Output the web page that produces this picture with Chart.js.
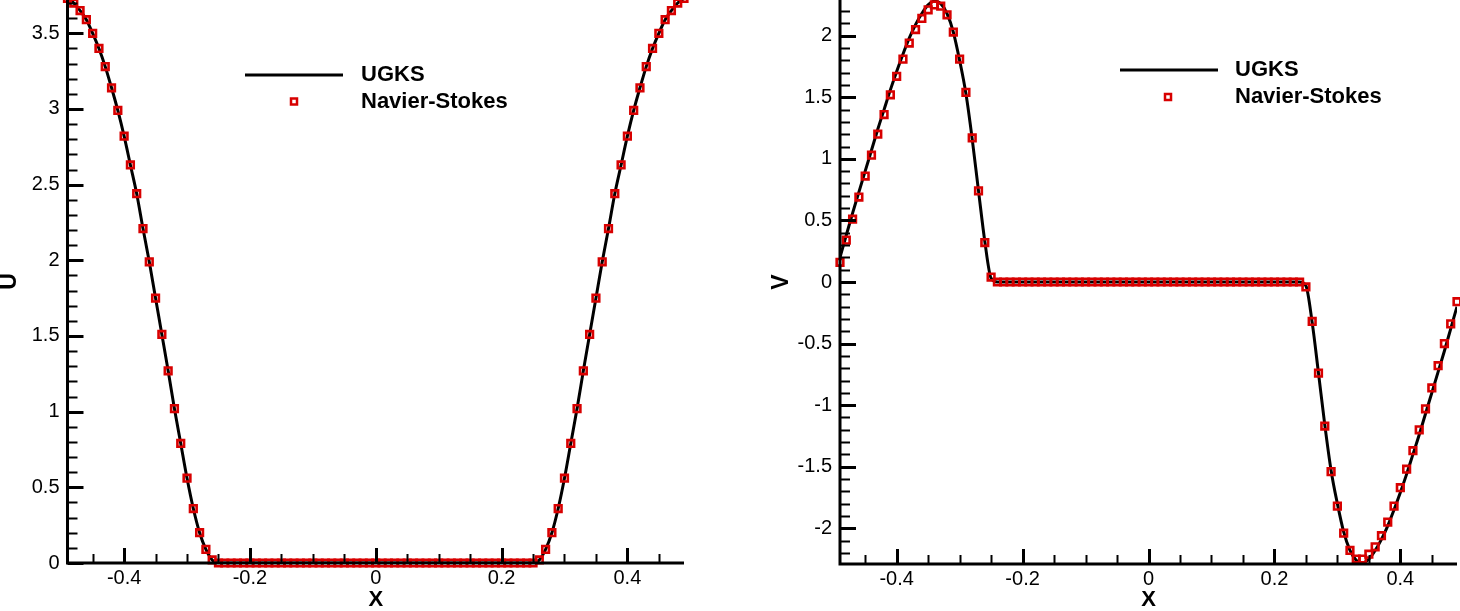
<!DOCTYPE html>
<html>
<head>
<meta charset="utf-8">
<script src="https://cdn.jsdelivr.net/npm/chart.js@4.4.1/dist/chart.umd.min.js"></script>
<style>
  html, body { margin: 0; padding: 0; background: #fff; }
  #wrap { position: relative; width: 1460px; height: 611px; overflow: hidden; }
  .panel { position: absolute; top: 0; width: 730px; height: 611px; }
</style>
</head>
<body>
<div id="wrap">
  <div class="panel" style="left:0"><canvas id="chartU"></canvas></div>
  <div class="panel" style="left:730px"><canvas id="chartV"></canvas></div>
</div>
<script>
// cell positions along X
const xPos = [
  -0.49, -0.48, -0.47, -0.46, -0.45, -0.44, -0.43, -0.42, -0.41, -0.40,
  -0.39, -0.38, -0.37, -0.36, -0.35, -0.34, -0.33, -0.32, -0.31, -0.30,
  -0.29, -0.28, -0.27, -0.26, -0.25, -0.24, -0.23, -0.22, -0.21, -0.20,
  -0.19, -0.18, -0.17, -0.16, -0.15, -0.14, -0.13, -0.12, -0.11, -0.10,
  -0.09, -0.08, -0.07, -0.06, -0.05, -0.04, -0.03, -0.02, -0.01, 0.00,
  0.01, 0.02, 0.03, 0.04, 0.05, 0.06, 0.07, 0.08, 0.09, 0.10,
  0.11, 0.12, 0.13, 0.14, 0.15, 0.16, 0.17, 0.18, 0.19, 0.20,
  0.21, 0.22, 0.23, 0.24, 0.25, 0.26, 0.27, 0.28, 0.29, 0.30,
  0.31, 0.32, 0.33, 0.34, 0.35, 0.36, 0.37, 0.38, 0.39, 0.40,
  0.41, 0.42, 0.43, 0.44, 0.45, 0.46, 0.47, 0.48, 0.49
];

// U velocity
const ugksU = [
  3.73, 3.70, 3.65, 3.59, 3.50, 3.40, 3.28, 3.14, 2.99, 2.82,
  2.63, 2.44, 2.21, 1.99, 1.75, 1.51, 1.27, 1.02, 0.79, 0.56,
  0.36, 0.20, 0.09, 0.02, 0, 0, 0, 0, 0, 0,
  0, 0, 0, 0, 0, 0, 0, 0, 0, 0,
  0, 0, 0, 0, 0, 0, 0, 0, 0, 0,
  0, 0, 0, 0, 0, 0, 0, 0, 0, 0,
  0, 0, 0, 0, 0, 0, 0, 0, 0, 0,
  0, 0, 0, 0, 0, 0.02, 0.09, 0.20, 0.36, 0.56,
  0.79, 1.02, 1.27, 1.51, 1.75, 1.99, 2.21, 2.44, 2.63, 2.82,
  2.99, 3.14, 3.28, 3.40, 3.50, 3.59, 3.65, 3.70, 3.73
];
const nsU = [
  3.73, 3.70, 3.65, 3.59, 3.50, 3.40, 3.28, 3.14, 2.99, 2.82,
  2.63, 2.44, 2.21, 1.99, 1.75, 1.51, 1.27, 1.02, 0.79, 0.56,
  0.36, 0.20, 0.09, 0.02, 0, 0, 0, 0, 0, 0,
  0, 0, 0, 0, 0, 0, 0, 0, 0, 0,
  0, 0, 0, 0, 0, 0, 0, 0, 0, 0,
  0, 0, 0, 0, 0, 0, 0, 0, 0, 0,
  0, 0, 0, 0, 0, 0, 0, 0, 0, 0,
  0, 0, 0, 0, 0, 0.02, 0.09, 0.20, 0.36, 0.56,
  0.79, 1.02, 1.27, 1.51, 1.75, 1.99, 2.21, 2.44, 2.63, 2.82,
  2.99, 3.14, 3.28, 3.40, 3.50, 3.59, 3.65, 3.70, 3.73
];

// V velocity
const ugksV = [
  0.20, 0.38, 0.56, 0.73, 0.90, 1.07, 1.24, 1.40, 1.56, 1.71,
  1.85, 1.98, 2.09, 2.18, 2.25, 2.28, 2.26, 2.18, 2.03, 1.80,
  1.53, 1.16, 0.74, 0.33, 0.03, 0, 0, 0, 0, 0,
  0, 0, 0, 0, 0, 0, 0, 0, 0, 0,
  0, 0, 0, 0, 0, 0, 0, 0, 0, 0,
  0, 0, 0, 0, 0, 0, 0, 0, 0, 0,
  0, 0, 0, 0, 0, 0, 0, 0, 0, 0,
  0, 0, 0, 0, -0.03, -0.33, -0.74, -1.16, -1.53, -1.80,
  -2.03, -2.18, -2.26, -2.28, -2.25, -2.18, -2.09, -1.98, -1.85, -1.71,
  -1.56, -1.40, -1.24, -1.07, -0.90, -0.73, -0.56, -0.38, -0.20
];
const nsV = [
  0.16, 0.34, 0.51, 0.69, 0.86, 1.03, 1.20, 1.36, 1.52, 1.67,
  1.81, 1.94, 2.05, 2.14, 2.21, 2.25, 2.24, 2.17, 2.03, 1.81,
  1.54, 1.17, 0.74, 0.32, 0.04, 0, 0, 0, 0, 0,
  0, 0, 0, 0, 0, 0, 0, 0, 0, 0,
  0, 0, 0, 0, 0, 0, 0, 0, 0, 0,
  0, 0, 0, 0, 0, 0, 0, 0, 0, 0,
  0, 0, 0, 0, 0, 0, 0, 0, 0, 0,
  0, 0, 0, 0, -0.04, -0.32, -0.74, -1.17, -1.54, -1.82,
  -2.04, -2.18, -2.25, -2.25, -2.21, -2.15, -2.06, -1.95, -1.82, -1.67,
  -1.52, -1.37, -1.20, -1.03, -0.86, -0.68, -0.50, -0.34, -0.16
];

const seriesNames = ["UGKS", "Navier-Stokes"];

const RED = "#d80000";
const FONT = '"Liberation Sans", Arial, Helvetica, sans-serif';
Chart.defaults.font.family = FONT;
Chart.defaults.color = "#000";

function points(ys) {
  return xPos.map((x, i) => ({ x: x, y: ys[i] }));
}

function fmt(v) {
  if (Math.abs(v) < 1e-9) return "0";
  return String(Math.round(v * 100) / 100);
}

// no extra room around the plot for half tick labels
function noScalePadding(s) {
  s.paddingTop = 0;
  s.paddingBottom = 0;
  s.paddingLeft = 0;
  s.paddingRight = 0;
}

// Tecplot-like axes: thick left/bottom lines with inward major/minor ticks
const tecAxes = {
  id: "tecAxes",
  afterDatasetsDraw(chart, args, o) {
    const { ctx, chartArea: a, scales: { x, y } } = chart;
    ctx.save();
    ctx.strokeStyle = "#000";
    ctx.lineCap = "butt";

    const near = (v, step) => Math.abs(v / step - Math.round(v / step)) < 1e-6;

    // x ticks
    for (let i = Math.ceil(x.min / o.xMinor - 1e-9); i * o.xMinor <= x.max + 1e-9; i++) {
      const v = i * o.xMinor;
      const major = near(v, o.xMajor);
      const px = Math.round(x.getPixelForValue(v)) + 0.5;
      ctx.lineWidth = major ? 3 : 2;
      ctx.beginPath();
      ctx.moveTo(px, a.bottom);
      ctx.lineTo(px, a.bottom - (major ? 15 : 9));
      ctx.stroke();
    }
    // y ticks
    for (let i = Math.ceil(y.min / o.yMinor - 1e-9); i * o.yMinor <= y.max + 1e-9; i++) {
      const v = i * o.yMinor;
      const major = near(v, o.yMajor);
      const py = Math.round(y.getPixelForValue(v)) + 0.5;
      ctx.lineWidth = major ? 3 : 2;
      ctx.beginPath();
      ctx.moveTo(a.left, py);
      ctx.lineTo(a.left + (major ? 16 : 10), py);
      ctx.stroke();
    }

    // axis lines
    ctx.lineWidth = 3;
    ctx.beginPath();
    ctx.moveTo(a.left, a.top);
    ctx.lineTo(a.left, a.bottom + 1.5);
    ctx.moveTo(a.left - 1.5, a.bottom);
    ctx.lineTo(a.right, a.bottom);
    ctx.stroke();
    ctx.restore();
  }
};

// legend drawn inside the plot, like the original
const tecLegend = {
  id: "tecLegend",
  afterDraw(chart, args, o) {
    const ctx = chart.ctx;
    const ds = chart.data.datasets;
    ctx.save();
    ctx.strokeStyle = "#000";
    ctx.lineWidth = 3;
    ctx.beginPath();
    ctx.moveTo(o.lineX0, o.row1);
    ctx.lineTo(o.lineX1, o.row1);
    ctx.stroke();

    ctx.strokeStyle = RED;
    ctx.lineWidth = 2.5;
    ctx.strokeRect(o.markX - 3, o.row2 - 3, 6, 6);

    ctx.fillStyle = "#000";
    ctx.font = "bold 22px " + FONT;
    ctx.textBaseline = "middle";
    ctx.textAlign = "left";
    ctx.fillText(ds[0].label, o.textX, o.row1);
    ctx.fillText(ds[1].label, o.textX, o.row2);
    ctx.restore();
  }
};

function makeChart(id, ugks, ns, cfg) {
  return new Chart(document.getElementById(id), {
    type: "scatter",
    data: {
      datasets: [
        {
          label: seriesNames[0],
          data: points(ugks),
          showLine: true,
          borderColor: "#000",
          borderWidth: 3,
          pointRadius: 0,
          cubicInterpolationMode: "monotone",
          order: 2
        },
        {
          label: seriesNames[1],
          data: points(ns),
          showLine: false,
          pointStyle: "rect",
          pointRadius: 4.7,
          borderColor: RED,
          backgroundColor: "rgba(0,0,0,0)",
          borderWidth: 2.6,
          clip: false,
          order: 1
        }
      ]
    },
    options: {
      responsive: true,
      maintainAspectRatio: false,
      animation: false,
      events: [],
      layout: {
        autoPadding: false,
        padding: { left: 0, right: cfg.padRight, top: 0, bottom: 0 }
      },
      plugins: {
        legend: { display: false },
        tooltip: { enabled: false },
        tecAxes: { xMajor: 0.2, xMinor: 0.05, yMajor: 0.5, yMinor: 0.1 },
        tecLegend: cfg.legend
      },
      scales: {
        x: {
          type: "linear",
          min: -0.49,
          max: 0.49,
          afterFit: s => { s.height = cfg.xHeight; noScalePadding(s); },
          grid: { display: false, drawTicks: false },
          border: { display: false },
          ticks: {
            stepSize: 0.2,
            includeBounds: false,
            maxRotation: 0,
            autoSkip: false,
            padding: 3,
            font: { size: 20 },
            callback: v => fmt(v)
          },
          title: {
            display: true,
            text: "X",
            font: { size: 22, weight: "bold", lineHeight: 1 },
            padding: { top: 0, bottom: 0 }
          }
        },
        y: {
          type: "linear",
          min: cfg.yMin,
          max: cfg.yMax,
          afterFit: s => { s.width = cfg.yWidth; noScalePadding(s); },
          grid: { display: false, drawTicks: false },
          border: { display: false },
          ticks: {
            stepSize: 0.5,
            includeBounds: false,
            autoSkip: false,
            padding: 8,
            font: { size: 20 },
            callback: v => fmt(v)
          },
          title: {
            display: true,
            text: cfg.yTitle,
            font: { size: 23, weight: "bold", lineHeight: 1 },
            padding: { top: cfg.yTitlePad, bottom: 0 }
          }
        }
      }
    },
    plugins: [tecAxes, tecLegend]
  });
}

makeChart("chartU", ugksU, nsU, {
  yMin: 0, yMax: 3.72, yTitle: "U", yTitlePad: -2,
  yWidth: 67.5, xHeight: 48, padRight: 46,
  legend: { lineX0: 245, lineX1: 343, row1: 75, row2: 101.5, markX: 294, textX: 361 }
});

makeChart("chartV", ugksV, nsV, {
  yMin: -2.29, yMax: 2.29, yTitle: "V", yTitlePad: 40,
  yWidth: 110, xHeight: 47, padRight: 3,
  legend: { lineX0: 390, lineX1: 488, row1: 70, row2: 97, markX: 438, textX: 505 }
});
</script>
</body>
</html>
